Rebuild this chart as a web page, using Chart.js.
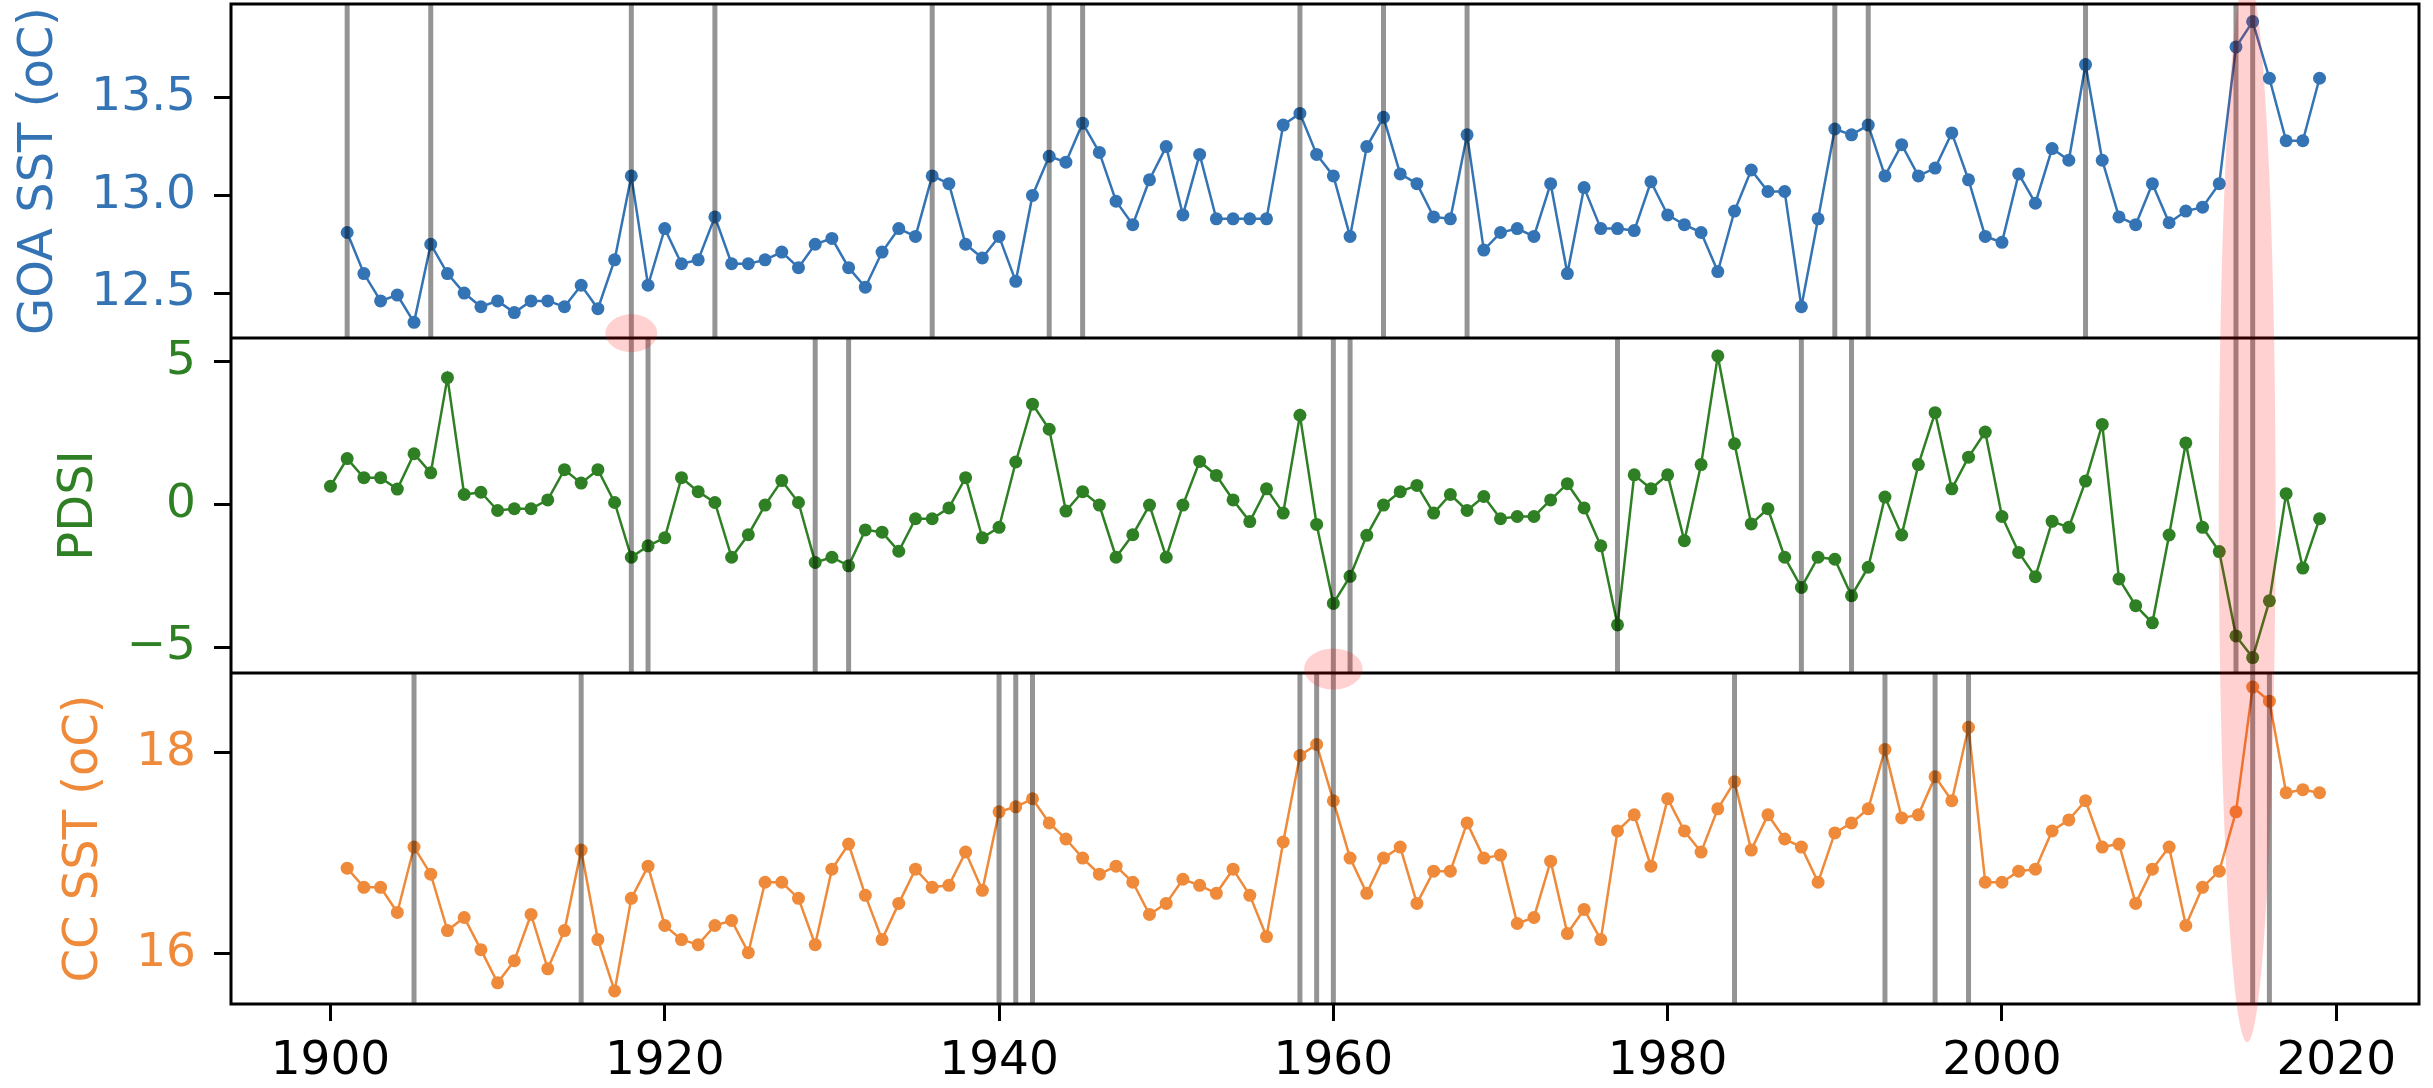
<!DOCTYPE html>
<html>
<head>
<meta charset="utf-8">
<script src="https://cdn.jsdelivr.net/npm/chart.js"></script>
<style>
  html, body { margin: 0; padding: 0; background: #fff; }
  #wrap { position: relative; width: 2433px; height: 1088px; overflow: hidden; }
  #wrap canvas { position: absolute; left: 0; }
</style>
</head>
<body>
<div id="wrap">
  <canvas id="goa" width="2433" height="338" style="top:0"></canvas>
  <canvas id="pdsi" width="2433" height="335" style="top:338px"></canvas>
  <canvas id="cc" width="2433" height="415" style="top:673px"></canvas>
  <canvas id="overlay" width="2433" height="1088" style="top:0;pointer-events:none"></canvas>
</div>
<script>
// years shared by the three panels
const years = [
  1900, 1901, 1902, 1903, 1904, 1905, 1906, 1907, 1908, 1909,
  1910, 1911, 1912, 1913, 1914, 1915, 1916, 1917, 1918, 1919,
  1920, 1921, 1922, 1923, 1924, 1925, 1926, 1927, 1928, 1929,
  1930, 1931, 1932, 1933, 1934, 1935, 1936, 1937, 1938, 1939,
  1940, 1941, 1942, 1943, 1944, 1945, 1946, 1947, 1948, 1949,
  1950, 1951, 1952, 1953, 1954, 1955, 1956, 1957, 1958, 1959,
  1960, 1961, 1962, 1963, 1964, 1965, 1966, 1967, 1968, 1969,
  1970, 1971, 1972, 1973, 1974, 1975, 1976, 1977, 1978, 1979,
  1980, 1981, 1982, 1983, 1984, 1985, 1986, 1987, 1988, 1989,
  1990, 1991, 1992, 1993, 1994, 1995, 1996, 1997, 1998, 1999,
  2000, 2001, 2002, 2003, 2004, 2005, 2006, 2007, 2008, 2009,
  2010, 2011, 2012, 2013, 2014, 2015, 2016, 2017, 2018, 2019
];

// Gulf of Alaska SST (no value for 1900)
const goaSst = [
  null, 12.81, 12.60, 12.46, 12.49, 12.35, 12.75, 12.60, 12.50, 12.43,
  12.46, 12.40, 12.46, 12.46, 12.43, 12.54, 12.42, 12.67, 13.10, 12.54,
  12.83, 12.65, 12.67, 12.89, 12.65, 12.65, 12.67, 12.71, 12.63, 12.75,
  12.78, 12.63, 12.53, 12.71, 12.83, 12.79, 13.10, 13.06, 12.75, 12.68,
  12.79, 12.56, 13.00, 13.20, 13.17, 13.37, 13.22, 12.97, 12.85, 13.08,
  13.25, 12.90, 13.21, 12.88, 12.88, 12.88, 12.88, 13.36, 13.42, 13.21,
  13.10, 12.79, 13.25, 13.40, 13.11, 13.06, 12.89, 12.88, 13.31, 12.72,
  12.81, 12.83, 12.79, 13.06, 12.60, 13.04, 12.83, 12.83, 12.82, 13.07,
  12.90, 12.85, 12.81, 12.61, 12.92, 13.13, 13.02, 13.02, 12.43, 12.88,
  13.34, 13.31, 13.36, 13.10, 13.26, 13.10, 13.14, 13.32, 13.08, 12.79,
  12.76, 13.11, 12.96, 13.24, 13.18, 13.67, 13.18, 12.89, 12.85, 13.06,
  12.86, 12.92, 12.94, 13.06, 13.76, 13.89, 13.60, 13.28, 13.28, 13.60
];

const pdsi = [
  0.64, 1.61, 0.94, 0.94, 0.54, 1.78, 1.11, 4.45, 0.35, 0.43,
  -0.21, -0.15, -0.15, 0.16, 1.22, 0.75, 1.22, 0.07, -1.85, -1.45,
  -1.17, 0.94, 0.45, 0.07, -1.85, -1.06, -0.02, 0.84, 0.07, -2.03,
  -1.85, -2.15, -0.89, -0.97, -1.64, -0.50, -0.50, -0.12, 0.94, -1.17,
  -0.80, 1.49, 3.52, 2.64, -0.23, 0.45, -0.02, -1.85, -1.06, -0.02,
  -1.85, -0.02, 1.51, 1.02, 0.16, -0.60, 0.55, -0.30, 3.13, -0.70,
  -3.47, -2.52, -1.08, -0.02, 0.45, 0.67, -0.30, 0.35, -0.21, 0.28,
  -0.50, -0.42, -0.42, 0.16, 0.73, -0.12, -1.45, -4.22, 1.04, 0.55,
  1.04, -1.27, 1.40, 5.21, 2.13, -0.68, -0.15, -1.85, -2.91, -1.85,
  -1.92, -3.20, -2.20, 0.26, -1.07, 1.40, 3.22, 0.55, 1.66, 2.54,
  -0.42, -1.68, -2.53, -0.59, -0.80, 0.82, 2.81, -2.61, -3.55, -4.15,
  -1.07, 2.16, -0.80, -1.65, -4.61, -5.37, -3.38, 0.38, -2.23, -0.50
];

// California Current SST (no value for 1900)
const ccSst = [
  null, 16.85, 16.66, 16.66, 16.41, 17.06, 16.79, 16.23, 16.36, 16.04,
  15.71, 15.93, 16.39, 15.85, 16.23, 17.03, 16.14, 15.63, 16.55, 16.87,
  16.28, 16.14, 16.09, 16.28, 16.33, 16.01, 16.71, 16.71, 16.55, 16.09,
  16.84, 17.09, 16.58, 16.14, 16.50, 16.84, 16.66, 16.68, 17.01, 16.63,
  17.41, 17.46, 17.54, 17.30, 17.14, 16.95, 16.79, 16.87, 16.71, 16.39,
  16.50, 16.74, 16.68, 16.60, 16.84, 16.58, 16.17, 17.11, 17.97, 18.08,
  17.52, 16.95, 16.60, 16.95, 17.06, 16.50, 16.82, 16.82, 17.30, 16.95,
  16.98, 16.30, 16.36, 16.92, 16.20, 16.44, 16.14, 17.22, 17.38, 16.87,
  17.54, 17.22, 17.01, 17.44, 17.71, 17.03, 17.38, 17.14, 17.06, 16.71,
  17.20, 17.30, 17.44, 18.03, 17.35, 17.38, 17.76, 17.52, 18.25, 16.71,
  16.71, 16.82, 16.84, 17.22, 17.33, 17.52, 17.06, 17.09, 16.50, 16.84,
  17.06, 16.28, 16.66, 16.82, 17.41, 18.65, 18.51, 17.60, 17.63, 17.60
];

// years marked with a grey vertical line in each panel
const goaEvents = [1901, 1906, 1918, 1923, 1936, 1943, 1945, 1958, 1963, 1968, 1990, 1992, 2005, 2014, 2015];
const pdsiEvents = [1918, 1919, 1929, 1931, 1960, 1961, 1977, 1988, 1991, 2014, 2015];
const ccEvents = [1905, 1915, 1940, 1941, 1942, 1958, 1959, 1960, 1984, 1993, 1996, 1998, 2015, 2016];

// tick labels
const xTicks = [1900, 1920, 1940, 1960, 1980, 2000, 2020];
const goaTicks = [12.5, 13.0, 13.5];
const pdsiTicks = [-5, 0, 5];
const ccTicks = [16, 18];

// highlighted red ellipses, placed in data units of one panel
const highlights = [
  { panel: 'goa', year: 1918, halfYears: 1.55, value: 12.294, halfSpan: 0.097 },
  { panel: 'pdsi', year: 1960, halfYears: 1.75, value: -5.77, halfSpan: 0.72 },
  { panel: 'pdsi', year: 2014.67, halfYears: 1.7, value: -0.16, halfSpan: 18.7 }
];

const BLUE = '#3474b4';
const GREEN = '#2f8024';
const ORANGE = '#ee8a3a';
const FONT = { family: 'DejaVu Sans', size: 47 };

const panelPlugin = {
  id: 'panel',
  afterDatasetsDraw(chart, args, opts) {
    const { ctx, chartArea: a } = chart;
    const x = chart.scales.x;
    ctx.save();
    ctx.strokeStyle = 'rgba(0,0,0,0.42)';
    ctx.lineWidth = 5;
    opts.events.forEach(yr => {
      const px = x.getPixelForValue(yr);
      ctx.beginPath();
      ctx.moveTo(px, a.top);
      ctx.lineTo(px, a.bottom);
      ctx.stroke();
    });
    ctx.strokeStyle = '#000';
    ctx.lineWidth = 3;
    ctx.strokeRect(a.left, a.top, a.right - a.left, a.bottom - a.top);
    ctx.restore();
  }
};

// no extra room for half labels at the ends of an axis
function noEndPadding(s) {
  s.paddingTop = 0;
  s.paddingBottom = 0;
  s.paddingLeft = 0;
  s.paddingRight = 0;
}

function makeChart(id, values, color, cfg) {
  const points = years.map((yr, i) => ({ x: yr, y: values[i] }));
  return new Chart(document.getElementById(id), {
    type: 'line',
    data: {
      datasets: [{
        data: points,
        borderColor: color,
        backgroundColor: color,
        borderWidth: 2.5,
        pointRadius: 6.5,
        pointBorderWidth: 0,
        pointBackgroundColor: color,
        tension: 0
      }]
    },
    options: {
      responsive: false,
      animation: false,
      layout: { autoPadding: false, padding: { left: 0, right: 14, top: cfg.padTop, bottom: 0 } },
      plugins: {
        legend: { display: false },
        tooltip: { enabled: false },
        panel: { events: cfg.events }
      },
      scales: {
        x: {
          type: 'linear',
          display: cfg.showX,
          min: 1894.05,
          max: 2024.95,
          afterBuildTicks: s => { s.ticks = xTicks.map(v => ({ value: v })); },
          afterFit: s => { s.height = cfg.showX ? 84 : 0; noEndPadding(s); },
          ticks: { color: '#000', font: FONT, padding: 13, maxRotation: 0, autoSkip: false, callback: v => String(v) },
          grid: { display: true, drawOnChartArea: false, drawTicks: true, tickLength: 17, tickWidth: 3, tickColor: '#000' },
          border: { display: false }
        },
        y: {
          min: cfg.min,
          max: cfg.max,
          afterBuildTicks: s => { s.ticks = cfg.ticks.map(v => ({ value: v })); },
          afterFit: s => { s.width = 231; noEndPadding(s); },
          ticks: { color: color, font: FONT, padding: 18, callback: cfg.fmt },
          grid: { display: true, drawOnChartArea: false, drawTicks: true, tickLength: 17, tickWidth: 3, tickColor: '#000' },
          border: { display: false },
          title: {
            display: true,
            text: cfg.title,
            color: color,
            font: { family: 'DejaVu Sans', size: 48 },
            padding: { top: cfg.titlePad, bottom: 0 }
          }
        }
      }
    },
    plugins: [panelPlugin]
  });
}

const charts = {
  goa: makeChart('goa', goaSst, BLUE, {
    padTop: 4, events: goaEvents, showX: false, min: 12.27, max: 13.98,
    ticks: goaTicks, fmt: v => v.toFixed(1), title: 'GOA SST (oC)', titlePad: 11
  }),
  pdsi: makeChart('pdsi', pdsi, GREEN, {
    padTop: 0, events: pdsiEvents, showX: false, min: -5.91, max: 5.84,
    ticks: pdsiTicks, fmt: v => (v < 0 ? '\u2212' + Math.abs(v) : String(v)), title: 'PDSI', titlePad: 51
  }),
  cc: makeChart('cc', ccSst, ORANGE, {
    padTop: 0, events: ccEvents, showX: true, min: 15.50, max: 18.79,
    ticks: ccTicks, fmt: v => String(v), title: 'CC SST (oC)', titlePad: 56
  })
};
const offsets = { goa: 0, pdsi: 338, cc: 673 };

// red ellipses across the panels
const ov = document.getElementById('overlay').getContext('2d');
ov.fillStyle = 'rgba(255,0,0,0.18)';
highlights.forEach(h => {
  const ch = charts[h.panel];
  const sx = ch.scales.x, sy = ch.scales.y;
  const cx = sx.getPixelForValue(h.year);
  const rx = Math.abs(sx.getPixelForValue(h.year + h.halfYears) - cx);
  const cyLocal = sy.getPixelForValue(h.value);
  const ry = Math.abs(sy.getPixelForValue(h.value + h.halfSpan) - cyLocal);
  ov.beginPath();
  ov.ellipse(cx, offsets[h.panel] + cyLocal, rx, ry, 0, 0, 2 * Math.PI);
  ov.fill();
});
</script>
</body>
</html>
